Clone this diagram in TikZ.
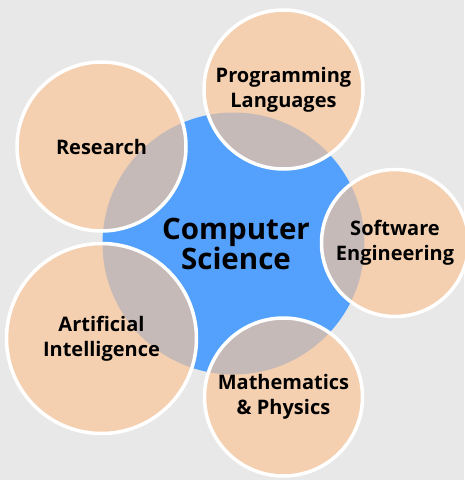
\documentclass[tikz,border=0pt]{standalone}
\usepackage{fontspec}
\setmainfont{Open Sans}
\usetikzlibrary{positioning}
\definecolor{csblue}{HTML}{53A1FD}
\definecolor{peach}{HTML}{F4D0B0}
\definecolor{overlap}{HTML}{C5BAB7}
\definecolor{backgray}{HTML}{E8E8E8}
\tikzset{
x=1pt, y=-1pt, % one unit is one pixel, y runs downwards
core/.style={circle, fill=csblue, inner sep=0pt, minimum size=262pt, align=center, font=\fontsize{29.5}{30}\selectfont\bfseries}, % the big centre circle
bubble/.style={circle, fill=peach, draw=white, line width=3.5pt, inner sep=0pt, align=center, font=\fontsize{20}{25}\selectfont\bfseries,
  path picture={\fill[overlap] (cs.center) circle[radius=131pt];}}, % the outer circles, greyed where they cover the centre
}
\begin{document}
\begin{tikzpicture}
    \fill[backgray] (0,0) rectangle (464,480);
    \useasboundingbox (0,0) rectangle (464,480);
    \node[core] (cs) at (233.5,243.5) {\hspace*{5pt}Computer\\\hspace*{5pt}Science};
    \node[bubble, minimum size=159pt] (prog) at (283.5,89.5) {Programming\\Languages};
    \node[bubble, minimum size=169pt] (res) at (101.5,146.5) {Research};
    \node[bubble, minimum size=147pt] (soft) at (395,243) {Software\\Engineering};
    \node[bubble, minimum size=190pt] (ai) at (101.5,338.5) {Artificial\\Intelligence};
    \node[bubble, minimum size=158pt] (math) at (283.5,397) {Mathematics\\\& Physics};
\end{tikzpicture}
\end{document}
